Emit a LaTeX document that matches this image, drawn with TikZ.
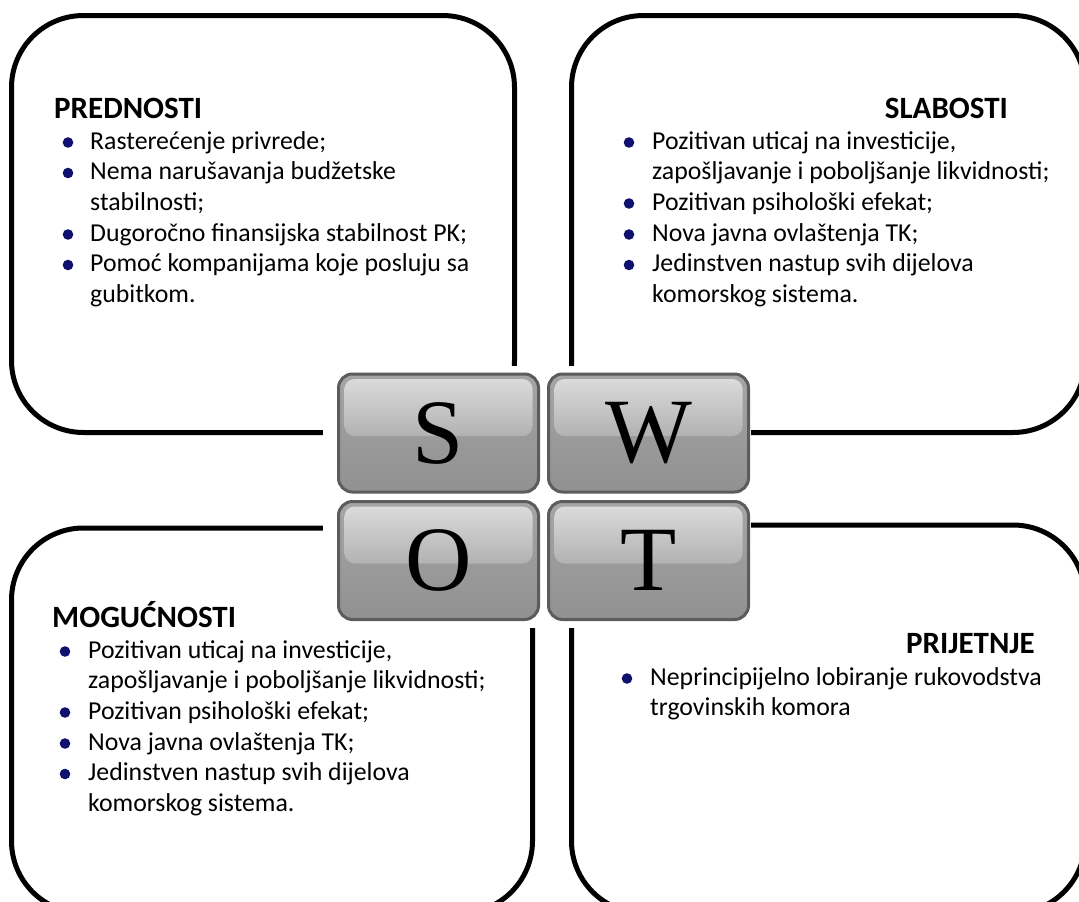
\documentclass[tikz,border=0pt]{standalone}
\usepackage{fontspec}
\setmainfont{Carlito}
\newfontfamily\tileserif{Liberation Serif}
\usetikzlibrary{calc}
\definecolor{bul}{RGB}{16,16,110}
\definecolor{tileedge}{RGB}{92,92,92}
\definecolor{tiletop}{RGB}{165,165,165}
\definecolor{tilebot}{RGB}{145,145,145}
\definecolor{glosstop}{RGB}{222,222,222}
\definecolor{glossbot}{RGB}{138,138,138}
\begin{document}
\begin{tikzpicture}[x=1pt,y=-1pt,
  box/.style={line width=5pt, draw=black, rounded corners=72pt},
  tile/.style={draw=tileedge, line width=3pt, rounded corners=14pt,
    minimum width=200pt, minimum height=118pt, inner sep=0pt,
    top color=tiletop, bottom color=tilebot,
    font=\tileserif\fontsize{92}{92}\selectfont, text=black,
    path picture={\shade[top color=glosstop, bottom color=glossbot, rounded corners=10pt]
      ($(path picture bounding box.north west)+(6,5)$) rectangle
      ($(path picture bounding box.east)+(-6,3)$);}},
  txt/.style={anchor=base west, inner sep=0pt, font=\fontsize{25.8}{30}\selectfont},
  hd/.style={anchor=base west, inner sep=0pt, font=\fontsize{31}{31}\selectfont\bfseries},
  hdr/.style={hd, anchor=base east},
  dot/.style={fill=bul}]
\useasboundingbox (0,0) rectangle (1079,902);
\clip (0,0) rectangle (1079,902);
% frames
\draw[box] (11.5,15.5) rectangle (514.5,432.5);
\draw[box] (571.5,15.5) rectangle (1085,432.5);
\draw[box] (11.5,528) rectangle (532.5,913);
\draw[box] (571.5,525) rectangle (1085,913);
% white backdrop of the tiles
\fill[white] (323,366) rectangle (751,628);
% tiles
\node[tile] (S) at (438.5,433) {S};
\node[tile] (W) at (648.5,433) {W};
\node[tile] (O) at (438.5,560.5) {O};
\node[tile] (T) at (648.5,560.5) {T};
% PREDNOSTI
\node[hd] (h1) at (54,118) {PREDNOSTI};
\node[txt] (a1) at (90,149) {Rasterećenje privrede;};
\node[txt] (a2) at (90,179.5) {Nema narušavanja budžetske};
\node[txt] (a3) at (90,210) {stabilnosti;};
\node[txt] (a4) at (90,241) {Dugoročno finansijska stabilnost PK;};
\node[txt] (a5) at (90,271.5) {Pomoć kompanijama koje posluju sa};
\node[txt] (a6) at (90,302) {gubitkom.};
\foreach \y in {149,179.5,241,271.5} \fill[dot] (68,\y-6.5) circle (5.3pt);
% SLABOSTI
\node[hdr] (h2) at (1008,118) {SLABOSTI};
\node[txt] (b1) at (652,149) {Pozitivan uticaj na investicije,};
\node[txt] (b2) at (652,179.5) {zapošljavanje i poboljšanje likvidnosti;};
\node[txt] (b3) at (652,210) {Pozitivan psihološki efekat;};
\node[txt] (b4) at (652,241) {Nova javna ovlaštenja TK;};
\node[txt] (b5) at (652,271.5) {Jedinstven nastup svih dijelova};
\node[txt] (b6) at (652,302) {komorskog sistema.};
\foreach \y in {149,210,241,271.5} \fill[dot] (629,\y-6.5) circle (5.3pt);
% MOGUCNOSTI
\node[hd] (h3) at (52,627) {MOGUĆNOSTI};
\node[txt] (c1) at (88,658) {Pozitivan uticaj na investicije,};
\node[txt] (c2) at (88,688.5) {zapošljavanje i poboljšanje likvidnosti;};
\node[txt] (c3) at (88,719) {Pozitivan psihološki efekat;};
\node[txt] (c4) at (88,750) {Nova javna ovlaštenja TK;};
\node[txt] (c5) at (88,780.5) {Jedinstven nastup svih dijelova};
\node[txt] (c6) at (88,811) {komorskog sistema.};
\foreach \y in {658,719,750,780.5} \fill[dot] (65,\y-6.5) circle (5.3pt);
% PRIJETNJE
\node[hdr] (h4) at (1035,653) {PRIJETNJE};
\node[txt] (d1) at (650,685) {Neprincipijelno lobiranje rukovodstva};
\node[txt] (d2) at (650,715) {trgovinskih komora};
\fill[dot] (627,678.5) circle (5.3pt);
\end{tikzpicture}
\end{document}
